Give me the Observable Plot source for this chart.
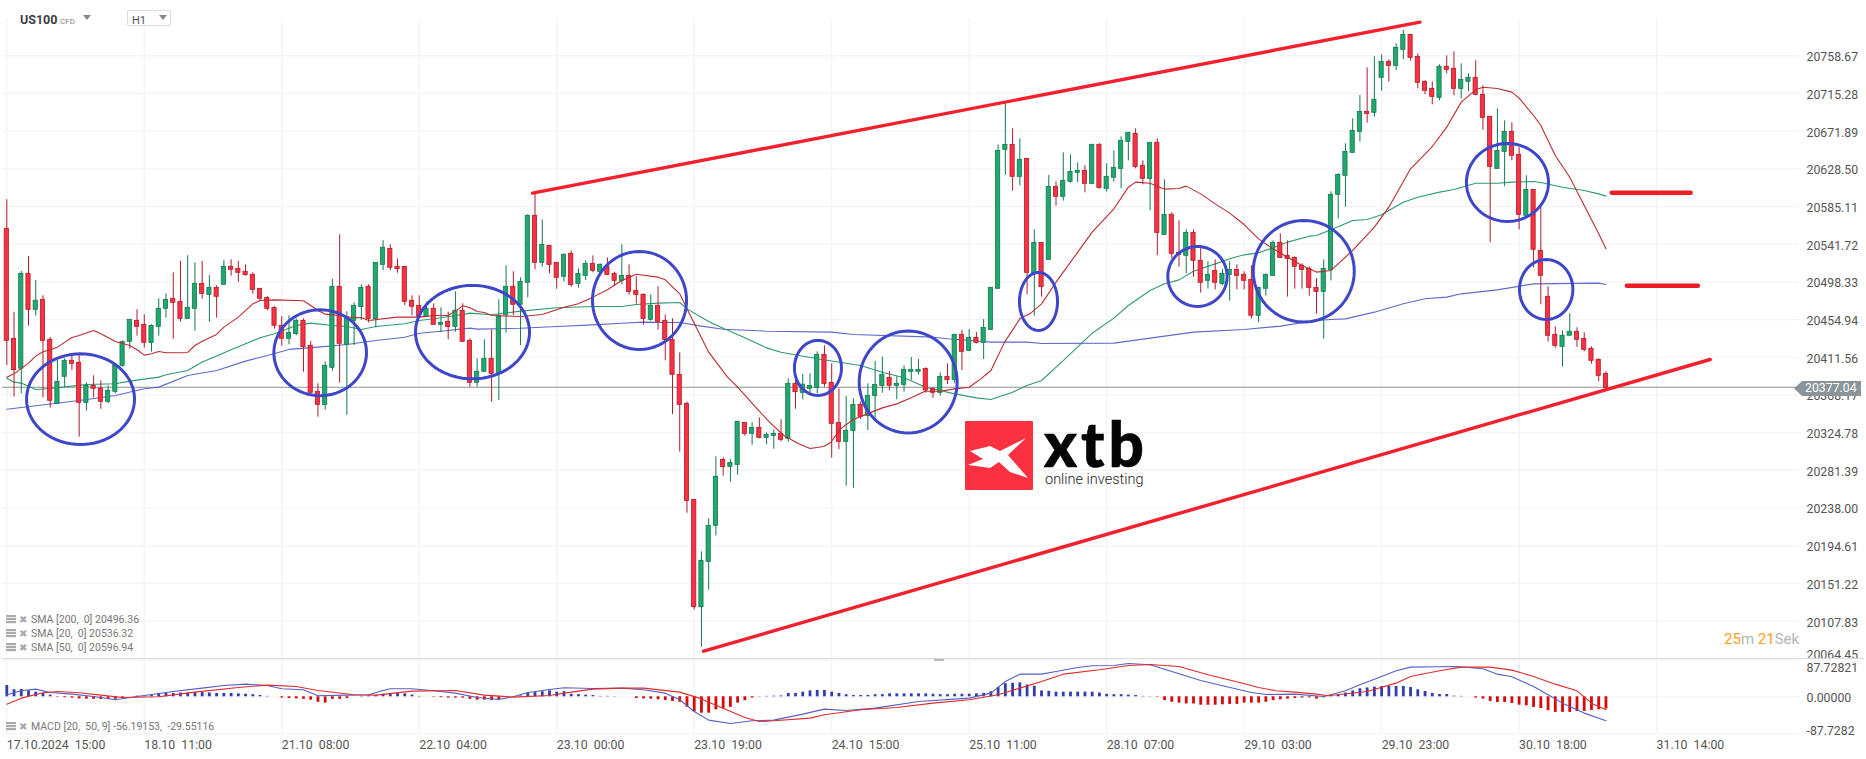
<!DOCTYPE html>
<html>
<head>
<meta charset="utf-8">
<script src="https://cdn.jsdelivr.net/npm/d3@7"></script>
<script src="https://cdn.jsdelivr.net/npm/@observablehq/plot@0.6"></script>
<style>
html,body{margin:0;padding:0;background:#fff;}
#stage{position:relative;width:1866px;height:759px;overflow:hidden;font-family:Roboto,sans-serif;background:#fff;}
#stage svg.plot{position:absolute;left:0;}
.abs{position:absolute;white-space:pre;}
.leg{position:absolute;left:6px;height:12px;font-size:10.5px;line-height:12px;color:#777;white-space:pre;}
.leg i{position:absolute;left:0;top:1px;width:10px;height:9px;background:repeating-linear-gradient(#aaa 0 2px,#eee 2px 3px);}
.leg b{position:absolute;left:13px;top:0;font:bold 10px "DejaVu Sans";color:#aaa;}
.leg span{position:absolute;left:25px;top:0;}
</style>
</head>
<body>
<div id="stage"></div>
<script>
const priceTicks=[20758.67,20715.28,20671.89,20628.50,20585.11,20541.72,20498.33,20454.94,20411.56,20368.17,20324.78,20281.39,20238.00,20194.61,20151.22,20107.83];
const lowestTick=[20064.45];
const macdTicks=[87.72821,0,-87.72821];
const dateTickBars=[0,19,38,57,76,95,114,133,152,171,190,209,228];
const dateTickLabels=["17.10.2024  15:00","18.10  11:00","21.10  08:00","22.10  04:00","23.10  00:00","23.10  19:00","24.10  15:00","25.10  11:00","28.10  07:00","29.10  03:00","29.10  23:00","30.10  18:00","31.10  14:00"];
const lastPrice=20377.04;

const highs=[20592.9,20463.5,20510.3,20527.6,20500,20482.3,20434.4,20407.9,20409.8,20412.9,
20415.6,20382.2,20390.2,20384.5,20378.7,20404,20430.5,20454.7,20466.2,20460.5,
20448.9,20478.9,20484.6,20508.8,20521.9,20528.4,20520.3,20521.9,20505.7,20493.8,
20523,20523.8,20521.9,20518,20508.8,20490.4,20481.2,20469.7,20458.2,20459.3,
20455.8,20455.8,20429.8,20381,20406.3,20501.1,20552.6,20463.9,20474.3,20495,
20495,20520.3,20545.7,20541,20524.9,20515.7,20482.3,20482.3,20475,20473.1,
20468.5,20463.5,20486.9,20473.1,20432.8,20409.8,20431.7,20443.2,20477.7,20516.9,
20510,20503.1,20575.6,20600.5,20569.8,20539.9,20520.3,20530.7,20534.1,20513.4,
20522.6,20528.3,20519.1,20526,20509.5,20541,20518,20504.2,20484.6,20483.4,
20492.7,20460.4,20455.8,20416.7,20360,20248,20187.5,20225.5,20296.9,20295.8,
20293.8,20337.2,20336.4,20336.4,20341.8,20324.5,20328,20339.5,20386.7,20392,
20392,20392.5,20417.8,20424.7,20404,20375.2,20366.4,20363.7,20360,20381,
20406.7,20411.7,20395.2,20389,20401.7,20411.3,20409,20399.4,20376.5,20393.6,
20404,20438,20442.4,20443.5,20440,20455,20491.5,20656,20704.5,20674.6,
20663,20640,20558.3,20543.3,20620.8,20613.6,20647,20644.6,20635.4,20632,
20656.2,20657.3,20634.3,20649.2,20665.4,20670,20674.6,20637.7,20658.5,20663,
20615.9,20577.9,20568.7,20558.3,20558.3,20537.6,20521.5,20523.7,20513,20521.5,
20518,20510,20516.9,20492.3,20507.6,20545.6,20553.7,20545.6,20527.2,20519.2,
20515.7,20501.9,20523.7,20602,20622.8,20657.3,20686.1,20713,20744.8,20757.5,
20759.8,20754,20772.4,20787.8,20782.8,20760.9,20729.8,20728.7,20748.3,20758.6,
20763.2,20749.4,20737.9,20752.9,20724,20688.4,20697.6,20683.8,20681.5,20652.7,
20620.5,20604.3,20584,20492.7,20446.6,20442,20461.6,20445.5,20439.7,20423.6,
20409.8,20394.8];
const lows=[20402.1,20365.7,20369.5,20447.4,20458.9,20364.9,20353,20358,20377.2,20396.4,
20319.6,20349.6,20364.9,20351.8,20358,20369.5,20400.2,20420.9,20435.9,20422.1,
20417.5,20435.9,20456.6,20432.4,20452,20455.1,20441.6,20478.5,20452,20456.6,
20495,20505,20498.1,20505,20484.2,20475.4,20465.1,20444,20424.4,20425.9,
20436.3,20394.4,20369.5,20342.6,20350.7,20395.6,20381.8,20344.9,20425.1,20453.9,
20450.9,20445.5,20511.1,20511.1,20508.4,20471.2,20459.3,20457,20457.8,20448.9,
20439.7,20431.7,20440.5,20429,20377.2,20377.2,20394.4,20359.9,20361.8,20439.3,
20459.7,20425.1,20480,20512.2,20515.3,20507.6,20490,20498.4,20492.3,20491.1,
20499.9,20508.8,20509.5,20505.7,20493.8,20495,20483.1,20472.7,20448.5,20453.1,
20442.8,20407.5,20345.6,20302.3,20232,20120.8,20077.8,20143.4,20205.9,20274.6,
20267.7,20275.8,20320.7,20310.3,20317.6,20310.7,20305.7,20314.2,20313.8,20351.8,
20362.5,20369.4,20369.4,20377,20295.4,20305.3,20263.1,20260.8,20340,20327.2,
20341.4,20370.2,20373,20362.5,20371.4,20385,20391.4,20370.2,20364.4,20366.7,
20380.2,20381,20396.3,20418.5,20427,20409,20443.1,20490,20621.2,20602.8,
20609,20483.4,20458.9,20480.8,20523.7,20585.5,20591.3,20612,20612.8,20600.9,
20610.1,20605.1,20602,20613.2,20605.5,20637.7,20628.5,20610.1,20580.2,20528.4,
20552.5,20525,20515.3,20507.6,20503.8,20485.4,20490,20489.2,20494,20476.2,
20489.2,20489.2,20455.8,20451.2,20481.9,20505.3,20525,20480.8,20490,20490,
20481.9,20461.2,20432.4,20499.6,20570.6,20584.4,20646.9,20659.2,20681.1,20688,
20717.9,20728.3,20741.4,20754,20752.5,20720.6,20713.7,20702.2,20706.8,20737.9,
20712.6,20709.1,20717.2,20712.6,20673,20543.3,20628.5,20607.8,20637.7,20558.3,
20574.4,20514.5,20472,20429,20422,20400.2,20436.3,20423.2,20417.8,20403.6,
20383.3,20375.6];
const opens=[20559.5,20432.8,20398.3,20507.7,20466.2,20477.7,20431.7,20358,20389.1,20407.5,
20405.2,20359.1,20378.7,20375.6,20360.3,20371.8,20401.7,20429.4,20453.5,20448.9,
20428.2,20446.6,20467.4,20478.9,20475.4,20455.8,20467.4,20496.1,20483.5,20491.5,
20495,20515.7,20513.4,20510,20506.5,20490.4,20480,20468.5,20447.8,20432.8,
20438.2,20453.5,20424.8,20371.8,20356.8,20399.4,20492.7,20425.9,20453.5,20469.3,
20492.7,20455.5,20518,20536.4,20515.7,20515.7,20476.6,20470.8,20458.2,20467.4,
20448.9,20452.4,20446.6,20465.1,20430.5,20382.2,20394.8,20409.8,20392.5,20460.5,
20492.7,20472,20497.3,20574.4,20520.3,20539.9,20520.3,20504.2,20530.7,20496.1,
20505.3,20519.1,20509.9,20515.7,20507.6,20499.6,20505.3,20488.1,20483.4,20454.7,
20470.8,20453.5,20431.6,20391.3,20357.9,20247.4,20123.8,20176,20217.5,20293.4,
20285.4,20287.7,20336,20323.4,20330.3,20318.8,20321.1,20323.4,20317.6,20380.9,
20370.6,20375.2,20376.3,20414.4,20382,20336,20314.2,20326.8,20356.8,20344.1,
20367.1,20378.6,20387.9,20378.7,20379.8,20394.8,20394.8,20398.2,20375.2,20370.6,
20389,20385.5,20437.4,20419,20433.9,20428.2,20443.1,20490.4,20650.4,20656.1,
20619.3,20640,20507.6,20543.3,20523.7,20607.8,20596.3,20613.6,20623.9,20626.2,
20611.2,20656.2,20605.5,20618.2,20628.5,20659.6,20668.8,20632,20617,20658.5,
20552.5,20575.6,20531.8,20528.4,20554.8,20522.6,20499.6,20511,20496.1,20506.5,
20512.2,20506.5,20500.7,20459.3,20490.4,20505.3,20543.3,20528.4,20526,20516.9,
20513.4,20491.5,20486.9,20512.2,20598.6,20620.5,20646.9,20671.1,20694.1,20693,
20733.3,20751.7,20747.1,20765.5,20782.8,20757.5,20728.7,20720.6,20710.3,20746,
20743.7,20720.6,20728.7,20733.3,20713.7,20688.4,20628.5,20648.1,20671.1,20644.6,
20574.4,20604.3,20534.1,20481.2,20437.4,20423.6,20436.3,20440.9,20432.8,20421.3,
20408.6,20392.5];
const closes=[20430.5,20396.7,20507.7,20466.2,20476.6,20430.5,20361.4,20383.3,20407.5,20404,
20359.1,20378.7,20375.3,20360.3,20373,20402.1,20429,20454.7,20446.6,20428.2,
20447.8,20467.4,20477.7,20474.3,20455.8,20468.5,20496.1,20484.6,20491.5,20481.2,
20515.7,20512.3,20508.8,20506.1,20489.2,20478.9,20467.4,20447.8,20432.8,20439.7,
20453.5,20423.2,20370.7,20356.8,20401.7,20492.7,20427.1,20455.8,20470.8,20491.5,
20455.8,20520.3,20537.6,20514.6,20513,20475.4,20469.7,20458.2,20467.4,20448.9,
20451.2,20446.3,20465.1,20429.4,20382.2,20394.8,20409.8,20392.5,20459.3,20492.7,
20472,20498.4,20574.4,20520.3,20541,20518,20503,20529.5,20494.6,20507.6,
20519.1,20511.1,20518,20506.5,20499.6,20505.3,20486.9,20483.4,20455.8,20470.8,
20452.4,20431.6,20391.3,20356.8,20246.2,20123.8,20177.2,20217.5,20273.9,20285,
20290,20337.2,20323.4,20330.3,20318.8,20322.2,20323.4,20316.5,20380.9,20371.4,
20380,20378.6,20414.4,20380.8,20334.9,20314.2,20326.8,20356.8,20343,20367.1,
20379.8,20391.4,20378.7,20381,20397.1,20397.1,20397.1,20373.3,20370.6,20389,
20385.2,20437.4,20417.8,20433.9,20428.2,20445.4,20491.5,20649.2,20656.1,20619.3,
20638.9,20508.8,20543.3,20492.3,20607.8,20596.3,20614.7,20625,20626.2,20611.2,
20656.2,20606.6,20619.3,20629.7,20660.8,20670,20630.8,20617,20658.5,20554.8,
20575.6,20530.7,20529.5,20554.8,20522.6,20497.3,20506.5,20497.3,20507.6,20512.2,
20505.3,20499.6,20459.3,20491.5,20506.5,20543.3,20526,20524.9,20515.7,20512.2,
20491.5,20486.9,20513.4,20598.6,20621.6,20648.1,20672.3,20694.1,20691.8,20708,
20751.7,20747.1,20767.8,20782.8,20756.3,20727.5,20718.3,20711.4,20746,20742.5,
20720.6,20731,20733.3,20713.7,20687.2,20630.8,20649.2,20671.1,20643.5,20575.6,
20604.3,20535.3,20505.3,20436.3,20424.7,20436.3,20440.9,20431.7,20420.1,20407.5,
20390.2,20376.4];

const sma20Bars=[0,1,3,4,5,6,7,9,10,12,13,15,17,18,19,20,21,22,24,25,26,27,29,30,32,34,35,37,41,42,43,44,46,48,49,50,54,57,59,61,62,63,64,65,66,67,71,74,77,79,81,83,85,87,90,91,93,94,95.5,97,99.6,101,103.3,105.4,107.4,109.3,111,112.9,113.9,115.2,117,118.9,121,123,124.9,126.9,129,131,133,134.6,136,137.9,140,141.5,143,145,148,150,153,155,156,158,160,162,163,165,167,169,171,173,175,177,179,181,183,186,189,191,194,197,199,201,203,204,206,208,209,211,212,214,216,218,220,221];
const sma20Values=[20388.7,20392.5,20404.8,20412.9,20417.9,20420.2,20423.2,20434.4,20436.7,20442.4,20438.6,20429.8,20425.1,20420.2,20414,20415.6,20418.2,20416.7,20416.7,20417.1,20425.1,20430.1,20437.8,20446.3,20457.8,20473.1,20477,20477.7,20476.6,20471.2,20465.4,20461.2,20459.7,20457,20457.4,20453.9,20457.8,20457.8,20459.7,20459.7,20464.7,20470.8,20468.5,20464.3,20463.1,20459.7,20458.5,20460.8,20469.2,20473.1,20480.8,20489.2,20499.9,20507.2,20503.8,20500.7,20484.6,20467.3,20442.4,20417.4,20388.7,20377.1,20356,20336.8,20321.5,20312.6,20306.5,20308.8,20313.8,20329.1,20339.9,20346.4,20353.3,20357.9,20364.8,20372.5,20372.5,20375.2,20377.1,20386.7,20396.3,20429,20455.8,20462.3,20473.1,20498,20532.6,20555.6,20582.5,20607.4,20613.2,20612,20605.1,20605.9,20608.6,20599.7,20588.2,20577.5,20564.4,20547.9,20536.4,20526.8,20517.2,20509.6,20511.5,20534.5,20561.4,20584.4,20628.5,20654.2,20676.5,20705.3,20719.5,20722.5,20721,20716.8,20709.9,20689.9,20678.4,20643.9,20618.9,20586.3,20553.7,20536.4];

const sma50Bars=[0,1,2,4,6,9,11,15,17,21,22,25,27,29,31,33,35,37,40,42,45,47,49,51,55,57,60,63,64,67,71,76,81,85,87,90,93,94,97,99,102,105,107,112,118,121,124,127,129,131,134,136,139,141,143,146,150,153,155,158,160,162,164,167,169,171,173,175,177,180,181,183,186,188,190,191,193,195,198,200,203,206,208,211,212,215,218,220,221];
const sma50Values=[20387.5,20382.9,20381.8,20374.5,20375.6,20378.3,20380.2,20381,20384.1,20388.7,20391.4,20396.4,20406,20412.9,20420.2,20427.1,20434,20438.6,20448.2,20450.9,20448.2,20447,20443.6,20447,20450.1,20453.9,20457,20460.8,20462.4,20460.5,20464.7,20468.5,20470,20470,20472.3,20473.9,20474.6,20467.3,20452.7,20445.1,20433.9,20422.4,20417.4,20409.8,20402.1,20394.4,20387.9,20377.1,20373.3,20369.4,20364.8,20362.9,20371.4,20379,20384.8,20407.8,20439.3,20456.6,20471.2,20488.4,20496.1,20500.7,20510.7,20519.1,20524.9,20529.5,20531.8,20537.6,20544.1,20551,20551.8,20558.3,20569,20570.2,20575.6,20580.5,20590.1,20595.9,20601.7,20604.7,20612,20612,20613.2,20613.9,20612.8,20607.4,20603.6,20599.7,20597.1];

const sma200Bars=[0,10,15,19,21,25,29,33,36,39,43,47,51,55,57,60,64,65,71,76,81,85,88,93,96,99,105,114,117,128,130,136,141,143,153,164,171,176,181,183,185,189,193,196,199,201,206,211,220,221];
const sma200Values=[20351.8,20361.8,20367.6,20375.3,20377.2,20390.6,20396.4,20407.1,20413.6,20420.6,20423.2,20426.3,20430.9,20434.7,20439.3,20441.6,20445.1,20444,20445,20447,20448.9,20450.8,20452,20451.6,20447.4,20443.9,20441.6,20440.5,20437.8,20434.7,20432.8,20429,20429,20427.5,20427.8,20440.5,20443.5,20447.4,20453.9,20455.1,20455.8,20463.5,20473.1,20478.9,20480.8,20484.6,20489.2,20496.1,20496.9,20495.4];

const macdBars=[0,2,4,6,9,12,15,18,23,27,30,33,36,38,41,43,47,50,52,53,56,59,62,65,68,70,72,75,77,81,85,88,91,93,95,97,100,103,106,110,113,116,120,126,133,136,138,140,143,145,148,150,153,155,158,161,165,168,170.4,172,174,178,182,185,187,190,192,194,198,200.3,204,206,208,211,213,215,218,221];
const macdValues=[4.7,14.2,18.2,10.3,6.3,0.8,-7.1,0.8,12.6,20.6,26.9,30,26.9,19,16.6,2.4,4,4.7,15,19,19,14.2,8.7,-1.6,-6.3,0,10.3,17.4,21.3,19.8,20.6,16.6,8.7,-7.1,-34.8,-55.3,-63.2,-56.9,-55.3,-41.1,-29.2,-32.4,-26.9,-11.1,-3.2,8.7,36.4,53.7,53.7,60.1,69.6,73.5,74.3,79,75.9,60.1,38.7,26.1,16.6,10.3,5.5,6.3,0.8,14.2,28.5,48.2,61.7,70.3,71.1,71.9,66.4,53.7,47.4,24.5,4.7,-15,-38.7,-56.9];
const signalBars=[0,2,5,7,10,13,16,21,26,32,36,40,43,48,51,56,62,66,70,75,78,81,85,88,93,95.7,99,102,104,106,111,113,118,123,128,133,137,140,143,146,151,155,158,162,166,170.4,173,175.4,178,181,182.6,188,192,194,198,201,205,208,211,214,217,219,221];
const signalValues=[-17.4,-3.2,9.5,12.6,9.5,4,-1.6,0,11.1,22.1,27.7,24.5,15,4.7,4,13.4,15,4,-0.8,3.2,11.1,18.2,20.6,20.6,11.1,-3.2,-26.9,-49,-58.5,-56.9,-50.6,-42.7,-30.8,-25.3,-15,-7.1,4.7,20.6,36.4,53.7,64,74.3,76.7,71.9,52.2,34,22.1,14.2,11.1,6.3,2.4,12.6,32.4,48.2,61.7,70.3,70.3,63.2,48.2,30,14.2,-15,-30.8];
const macdHist=[26.9,16.6,17.4,14.2,11,8,4,-1,-2,-3,
-5,-5.5,-6,-6.3,-6,-6,-2,0,1.5,2,
3,8,8,8,9,9,10,10,9,8,
8,8,7,6,5,3,1,0,-3,-4,
-5,-6,-8,-13,-15,-6,-6,-4,0,1,
2,3,6,7,8,7,4,1,0,-1,
-2,-3,-3,-3,-6,-8,-8,-9,-7,0,
0.5,2,9,10,12,14,11,12,6,5,
4,3,1,1,0.5,0,0,-4,-5,-5.5,
-7,-9,-11,-13,-25,-36,-39,-39,-31,-28,
-25,-15,-9,-3,0.5,1,1.5,2,8,8,
11,14,15,15,11,8,5,3,3,3,
5,5,7,7,7,7,7,7,6,5,
5,6,6,6,7,8,12,22,31,32,
33,28,25,14,13,11,11,11,11,11,
11,9,6,5,5,4,3,1,0.5,-1,
-9,-13,-15,-17,-17,-20,-20,-20,-19,-18,
-18,-15,-15,-15,-13,-9,-7,-5.5,-4,-3,
-2.5,-5.5,-2.5,2,5,9,14,19,21,23,
24.5,24.5,24.5,24.5,22,16.6,12.6,8,5.5,5.5,
1.5,1,0,-3,-5.5,-11,-13.4,-13.4,-15.8,-19.8,
-21.3,-25.3,-27.7,-33,-37,-37,-37,-34.8,-34.8,-32.4,
-30.8,-29.2];

const trendBars=[[72.65,195.3],[96.3,235.4]];
const trendPrices=[[20600.5,20797.4],[20073.2,20409]];
const levelBars=[[221.8,232.7],[223.9,233.7]];
const levelPrices=[20600.9,20493.9];
const circleBars=[10.19,43.31,64.36,87.44,112.1,124.57,142.58,164.55,179.24,207.39,212.74];
const circlePrices=[20363.3,20416.8,20440.5,20477,20399.3,20383.1,20475.8,20504.6,20510.6,20612.8,20489.6];
const circleBarRadii=[7.46,6.4,7.88,6.5,3.25,6.77,2.63,4.1,6.98,5.67,3.69];
const circlePriceRadii=[52.2,49.5,53.8,56.4,31.7,58.7,33.4,34.5,58.5,44.9,34.5];

const smaLegend=["SMA [200,  0] 20496.36","SMA [20,  0] 20536.32","SMA [50,  0] 20596.94"];
const macdLegend="MACD [20,  50, 9] -56.19153,  -29.55116";

const UP="#20a86f",UPD="#12784f",DOWN="#fb3040",DOWND="#b01c2c",GRID="#f3f3f3",TXT="#555";
const candles=highs.map((h,i)=>({i,high:h,low:lows[i],open:opens[i],close:closes[i],up:closes[i]>=opens[i]}));
const line=(bars,vals)=>bars.map((b,k)=>({b,v:vals[k]}));
const segs=[];
trendBars.forEach((t,k)=>{segs.push({id:k,b:t[0],p:trendPrices[k][0]},{id:k,b:t[1],p:trendPrices[k][1]});});
const levels=[];
levelBars.forEach((t,k)=>{levels.push({id:k,b:t[0],p:levelPrices[k]},{id:k,b:t[1],p:levelPrices[k]});});
const rings=[];
circleBars.forEach((c,k)=>{d3.range(0,360,5).forEach(a=>{const r=a*Math.PI/180;rings.push({id:k,b:c+circleBarRadii[k]*Math.cos(r),p:circlePrices[k]+circlePriceRadii[k]*Math.sin(r)});});});

const common={width:1866,marginLeft:2,marginRight:67,style:{fontFamily:"Roboto,sans-serif",background:"transparent",whiteSpace:"pre"}};
const AXF=12.3;

const main=Plot.plot({...common,height:659,marginTop:18,marginBottom:0.7,
 x:{type:"linear",domain:[-0.594,247.75],axis:null},
 y:{domain:[20064.4,20801.6]},
 marks:[
  Plot.ruleX(dateTickBars,{stroke:GRID,strokeWidth:1.2}),
  Plot.ruleY(priceTicks,{stroke:GRID,strokeWidth:1.2}),
  Plot.axisY(priceTicks,{anchor:"right",tickSize:0,tickPadding:7,tickFormat:".2f",fontSize:AXF,fill:TXT,dy:1.5,label:null}),
  Plot.axisY(lowestTick,{anchor:"right",tickSize:0,tickPadding:7,tickFormat:".2f",fontSize:AXF,fill:TXT,dy:-3.5,label:null}),
  Plot.ruleY([lastPrice],{stroke:"#8b9194",strokeWidth:1}),
  Plot.line(line(sma200Bars,sma200Values),{x:"b",y:"v",stroke:"#5f6bc8",strokeWidth:1.1}),
  Plot.line(line(sma50Bars,sma50Values),{x:"b",y:"v",stroke:"#2f9a70",strokeWidth:1.1}),
  Plot.ruleX(candles,{x:"i",y1:"low",y2:"high",stroke:d=>d.up?UPD:DOWND,strokeWidth:1}),
  Plot.rect(candles,{x1:d=>d.i-0.29,x2:d=>d.i+0.29,y1:"open",y2:"close",fill:d=>d.up?UP:DOWN,stroke:d=>d.up?UPD:DOWND,strokeWidth:0.8}),
  Plot.line(line(sma20Bars,sma20Values),{x:"b",y:"v",stroke:"#bb2d30",strokeWidth:1.1}),
  Plot.line(segs,{x:"b",y:"p",z:"id",stroke:"#f5202e",strokeWidth:3.4}),
  Plot.line(levels,{x:"b",y:"p",z:"id",stroke:"#ee1c25",strokeWidth:4.5,strokeLinecap:"round"}),
  Plot.line(rings,{x:"b",y:"p",z:"id",curve:"linear-closed",stroke:"#3e46c9",strokeWidth:3})
 ]});
main.style.top="0px";

const macdPlot=Plot.plot({...common,height:101,marginTop:0.3,marginBottom:26.7,
 x:{type:"linear",domain:[-0.594,247.75]},
 y:{domain:[-87.72821,87.72821],axis:null},
 marks:[
  Plot.ruleX(dateTickBars,{stroke:GRID,strokeWidth:1.2}),
  Plot.ruleY(macdTicks,{stroke:GRID,strokeWidth:1.2}),
  Plot.ruleX(macdHist.map((v,i)=>({i,v})),{x:"i",y1:0,y2:"v",stroke:d=>d.v>=0?"#2f3eaa":"#d50a0a",strokeWidth:2.8}),
  Plot.line(line(macdBars,macdValues),{x:"b",y:"v",stroke:"#5660c2",strokeWidth:1.1}),
  Plot.line(line(signalBars,signalValues),{x:"b",y:"v",stroke:"#e22b2b",strokeWidth:1.1}),
  Plot.text([macdTicks[0]],{x:()=>247.75,y:d=>d,text:d=>d3.format(".5f")(d),textAnchor:"start",dx:7,dy:8.5,fontSize:AXF,fill:TXT}),
  Plot.text([macdTicks[1]],{x:()=>247.75,y:d=>d,text:d=>d3.format(".5f")(d),textAnchor:"start",dx:7,dy:1.5,fontSize:AXF,fill:TXT}),
  Plot.text(["-87.7282"],{x:()=>247.75,y:()=>macdTicks[2],text:d=>d,textAnchor:"start",dx:7,dy:-3,fontSize:AXF,fill:TXT}),
  Plot.axisX(dateTickBars,{anchor:"bottom",tickSize:0,tickPadding:6,textAnchor:"start",fontSize:AXF,fill:TXT,label:null,
    tickFormat:d=>dateTickLabels[dateTickBars.indexOf(d)]})
 ]});
macdPlot.style.top="658px";

const stage=document.getElementById("stage");
stage.append(main,macdPlot);

function add(css,html,cls){const e=document.createElement("div");e.className=cls||"abs";e.style.cssText=css;if(html!=null)e.innerHTML=html;stage.append(e);return e;}
add("left:2px;top:658px;width:1862px;height:1px;background:#dcdcdc");
add("left:934px;top:659px;width:10px;height:2px;background:#bbb");
// header
add("left:20px;top:12px;font:bold 12.5px/15px Roboto;color:#3a3f44","US100");
add("left:60px;top:17px;font:8px/10px Roboto;color:#888","CFD");
add("left:83px;top:15px;width:8px;height:5px;background:#888;clip-path:polygon(0 0,100% 0,50% 100%)");
add("left:127px;top:10px;width:42px;height:14px;border:1px solid #ddd;border-radius:2px");
add("left:132px;top:14px;font:11px/13px Roboto;color:#555","H1");
add("left:159px;top:15px;width:8px;height:5px;background:#888;clip-path:polygon(0 0,100% 0,50% 100%)");
// legends
smaLegend.forEach((t,k)=>add(`top:${614+14*k}px;width:150px`,`<i></i><b>✖</b><span>${t}</span>`,"leg"));
add("top:721px;width:230px",`<i></i><b>✖</b><span>${macdLegend}</span>`,"leg");
// badge
add("left:1794px;top:381px;width:67px;height:15px;background:#8b9498;clip-path:polygon(0 50%,8px 0,100% 0,100% 100%,8px 100%)");
add("left:1805px;top:381px;font:12.3px/15px Roboto;color:#fff",lastPrice.toFixed(2));
// countdown
add("left:1724px;top:630px;font:15px/18px Roboto;color:#b5b5b5",'<span style="color:#ff9d20">25</span>m <span style="color:#ff9d20">21</span>Sek');
// logo
add("left:965px;top:421px;width:68px;height:69px;background:#fb3040;border-radius:1px",
 '<svg width="68" height="69" viewBox="0 0 68 69" style="display:block"><polygon fill="#fff" points="5,30 25,25 35,30 61,17 43,34 63,57 45,51 34,41 25,47 3,44 18,38" /></svg>');
add("left:1044px;top:420px;font:900 62px/46px Lato,Roboto;color:#050505;letter-spacing:4px;-webkit-text-stroke:0.7px #050505","xtb");
add("left:1045px;top:473px;font:300 14.5px/14px Roboto;color:#222","online investing");
</script>
</body>
</html>
